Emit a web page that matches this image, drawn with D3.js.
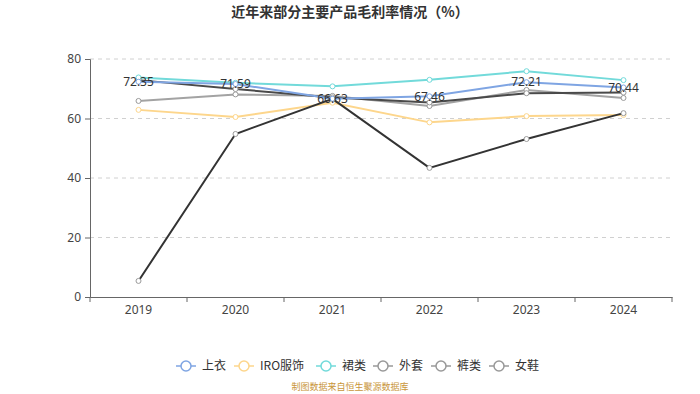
<!DOCTYPE html>
<html>
<head>
<meta charset="utf-8">
<script src="https://cdn.jsdelivr.net/npm/d3@7"></script>
<style>
  body { margin: 0; background: #fff; }
  svg { display: block; font-family: "Noto Sans CJK SC", "Noto Sans", sans-serif; }
</style>
</head>
<body>
<svg width="700" height="394"></svg>
<script>
const years = ['2019', '2020', '2021', '2022', '2023', '2024'];
const seriesNames = ['上衣', 'IRO服饰', '裙类', '外套', '裤类', '女鞋'];
const seriesColors = ['#7fa5e3', '#fdd68c', '#72dada', '#a3a3a3', '#4a4a4a', '#333333'];
const legendColors = ['#7fa5e3', '#fdd68c', '#72dada', '#999999', '#999999', '#999999'];
const shirt = [72.35, 71.59, 66.63, 67.46, 72.21, 70.44];
const iro = [62.9, 60.5, 65.3, 58.7, 60.8, 61.2];
const skirt = [73.8, 72.0, 70.8, 73.0, 75.9, 72.9];
const coat = [65.9, 68.1, 67.6, 64.2, 69.6, 66.9];
const pants = [72.9, 69.9, 67.1, 65.4, 68.5, 68.7];
const shoes = [5.4, 54.8, 66.6, 43.4, 53.1, 61.8];
const yTicks = [0, 20, 40, 60, 80];

const series = [shirt, iro, skirt, coat, pants, shoes];
const svg = d3.select('svg');

const x = d3.scaleBand().domain(years).range([90, 672]);
const y = d3.scaleLinear().domain([0, 80]).range([297, 59]);

// title
svg.append('text')
  .attr('x', 350).attr('y', 17)
  .attr('text-anchor', 'middle')
  .attr('font-size', 14).attr('font-weight', 'bold')
  .attr('fill', '#333')
  .text('近年来部分主要产品毛利率情况（%）');

// grid
svg.append('g').selectAll('line')
  .data(yTicks.filter(d => d > 0))
  .enter().append('line')
  .attr('x1', 90).attr('x2', 672)
  .attr('y1', d => y(d)).attr('y2', d => y(d))
  .attr('stroke', '#d0d0d0')
  .attr('stroke-dasharray', '4,4');

// y axis
const yAxis = svg.append('g')
  .attr('transform', 'translate(90,0)')
  .call(d3.axisLeft(y).tickValues(yTicks).tickSize(5).tickPadding(4));
yAxis.select('.domain').attr('stroke', '#666');
yAxis.selectAll('.tick line').attr('stroke', '#666');
yAxis.selectAll('.tick text').attr('fill', '#444').attr('font-size', 12).attr('font-family', 'Noto Sans, sans-serif');

// x axis
const xAxis = svg.append('g')
  .attr('transform', 'translate(0,297)')
  .call(d3.axisBottom(x).tickSize(0).tickPadding(8));
xAxis.select('.domain').attr('stroke', '#666');
xAxis.selectAll('.tick text').attr('fill', '#444').attr('font-size', 12).attr('font-family', 'Noto Sans, sans-serif');
xAxis.selectAll('.bound')
  .data(d3.range(years.length + 1))
  .enter().append('line')
  .attr('x1', i => 90 + i * x.bandwidth())
  .attr('x2', i => 90 + i * x.bandwidth())
  .attr('y1', 0).attr('y2', 5)
  .attr('stroke', '#666');

const cx = d => x(d) + x.bandwidth() / 2;
const line = d3.line().x((d, i) => cx(years[i])).y(d => y(d));

// lines, drawn from last to first so 上衣 sits on top
const order = [3, 4, 1, 2, 5, 0];
order.forEach(k => {
  const g = svg.append('g');
  g.append('path')
    .datum(series[k])
    .attr('d', line)
    .attr('fill', 'none')
    .attr('stroke', seriesColors[k])
    .attr('stroke-width', 2);
  g.selectAll('circle')
    .data(series[k])
    .enter().append('circle')
    .attr('cx', (d, i) => cx(years[i]))
    .attr('cy', d => y(d))
    .attr('r', 2.5)
    .attr('fill', '#fff')
    .attr('stroke', k >= 3 ? '#999' : seriesColors[k])
    .attr('stroke-width', 1);
});

// labels for 上衣
svg.append('g').selectAll('text')
  .data(shirt)
  .enter().append('text')
  .attr('x', (d, i) => cx(years[i]))
  .attr('y', d => y(d))
  .attr('dy', '0.35em')
  .attr('text-anchor', 'middle')
  .attr('font-size', 12)
  .attr('font-family', 'Noto Sans, sans-serif')
  .attr('fill', '#333')
  .text(d => d.toFixed(2));

// legend
const legendX = [176, 234, 316, 373, 431, 489];
const legend = svg.append('g');
seriesNames.forEach((name, k) => {
  const g = legend.append('g').attr('transform', `translate(${legendX[k]},366)`);
  g.append('line').attr('x1', 0).attr('x2', 20).attr('y1', 0).attr('y2', 0)
    .attr('stroke', legendColors[k]).attr('stroke-width', 1.5);
  g.append('circle').attr('cx', 10).attr('cy', 0).attr('r', 5)
    .attr('fill', '#fff').attr('stroke', legendColors[k]).attr('stroke-width', 1.5);
  g.append('text').attr('x', 26).attr('y', 0).attr('dy', '0.35em')
    .attr('font-size', 12).attr('fill', '#333').text(name);
});

// source note
svg.append('text')
  .attr('x', 350).attr('y', 390)
  .attr('text-anchor', 'middle')
  .attr('font-size', 9)
  .attr('fill', '#c9963a')
  .text('制图数据来自恒生聚源数据库');
</script>
</body>
</html>
